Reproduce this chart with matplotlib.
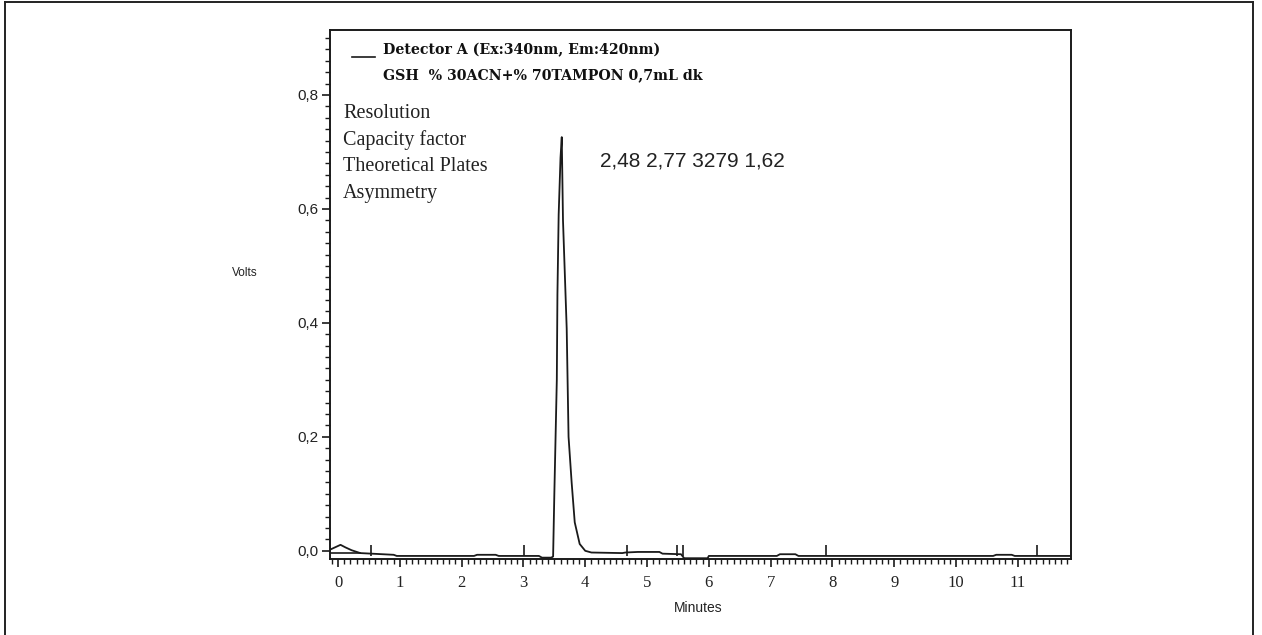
import matplotlib
matplotlib.use('Agg')
import matplotlib.pyplot as plt
from matplotlib.lines import Line2D
from matplotlib.ticker import MultipleLocator, FuncFormatter

# ── Data ───────────────────────────────────────────────────────────────────
signal_t = [-0.13, 0.04, 0.12, 0.22, 0.36, 0.9, 0.95, 2.2, 2.25, 2.55, 2.6,
            3.25, 3.3, 3.45, 3.48, 3.50, 3.54, 3.55, 3.57, 3.60, 3.62, 3.64,
            3.70, 3.73, 3.78, 3.83, 3.91, 4.0, 4.1, 4.6, 4.65, 4.85, 5.2,
            5.25, 5.55, 5.6, 5.98, 6.0, 7.1, 7.15, 7.4, 7.45, 10.6, 10.65,
            10.9, 10.95, 11.86]
signal_v = [0.002, 0.0105, 0.006, 0.001, -0.004, -0.007, -0.009, -0.009,
            -0.007, -0.007, -0.009, -0.009, -0.012, -0.012, -0.010, 0.10,
            0.30, 0.45, 0.59, 0.69, 0.726, 0.58, 0.39, 0.20, 0.12, 0.05,
            0.012, 0.0, -0.003, -0.004, -0.003, -0.002, -0.002, -0.005,
            -0.006, -0.013, -0.013, -0.009, -0.009, -0.006, -0.006, -0.009,
            -0.009, -0.007, -0.007, -0.009, -0.009]
base_t = [-0.13, 0.36]
base_v = [-0.004, -0.004]
marker_t = [0.54, 3.01, 4.67, 5.48, 5.58, 7.90, 11.31]

xticks = list(range(0, 12))
yticks = [0.0, 0.2, 0.4, 0.6, 0.8]

legend_lines = ['Detector A (Ex:340nm, Em:420nm)',
                'GSH  % 30ACN+% 70TAMPON 0,7mL dk']
param_names = ['Resolution', 'Capacity factor', 'Theoretical Plates', 'Asymmetry']
param_values = '2,48 2,77 3279 1,62'

W, H = 1262, 635
fig = plt.figure(figsize=(W / 100, H / 100), dpi=100)
ax = fig.add_axes([330 / W, 1 - 558.5 / H, (1071 - 330) / W, (558.5 - 30) / H])

ax.plot(signal_t, signal_v, color='#1a1a1a', lw=1.3)
ax.plot(base_t, base_v, color='#1a1a1a', lw=1.2)
ax.vlines(marker_t, -0.009, 0.011, color='#1a1a1a', lw=1.2)

ax.set_xlim(-0.13, 11.86)
ax.set_ylim(-0.0135, 0.914)

for s in ax.spines.values():
    s.set_linewidth(1.4)
    s.set_color('#1a1a1a')

ax.set_xticks(xticks)
ax.set_yticks(yticks)
ax.xaxis.set_minor_locator(MultipleLocator(0.1))
ax.yaxis.set_minor_locator(MultipleLocator(0.02))
ax.yaxis.set_major_formatter(FuncFormatter(lambda v, p: f'{v:.1f}'.replace('.', ',')))
ax.tick_params(axis='both', which='major', direction='out', length=6, width=1.2,
               color='#1a1a1a')
ax.tick_params(axis='both', which='minor', direction='out', length=3.5, width=1.0,
               color='#1a1a1a')
ax.tick_params(axis='x', pad=6)
ax.tick_params(axis='y', pad=2)
for lbl in ax.get_xticklabels():
    lbl.set_fontfamily('Liberation Serif')
    lbl.set_fontsize(12)
    lbl.set_color('#222222')
for lbl in ax.get_yticklabels():
    lbl.set_fontfamily('Liberation Sans')
    lbl.set_fontsize(11)
    lbl.set_color('#222222')

fig.text(245 / W, 1 - 273 / H, 'Volts', ha='center', va='center',
         fontsize=8.5, family='Liberation Sans', color='#222222')
fig.text(698 / W, 1 - 608 / H, 'Minutes', ha='center', va='center',
         fontsize=10, family='Liberation Sans', color='#222222')

# legend block
fig.add_artist(Line2D([352 / W, 375 / W], [1 - 57 / H, 1 - 57 / H],
                      color='#1a1a1a', lw=1.2))
for k, txt in enumerate(legend_lines):
    fig.text(383 / W, 1 - (50 + 25 * k) / H, txt, ha='left', va='center',
             fontsize=10.2, family='DejaVu Serif', fontweight='bold',
             color='#111111')

# peak report
for k, txt in enumerate(param_names):
    fig.text(343 / W, 1 - (113 + 26.7 * k) / H, txt, ha='left', va='center',
             fontsize=14.5, family='Liberation Serif', color='#222222')
fig.text(600 / W, 1 - 161 / H, param_values, ha='left', va='center',
         fontsize=15, family='Liberation Sans', color='#222222')

# outer frame
for xs, ys in [([5, 5], [2, H]), ([1253, 1253], [2, H]), ([5, 1253], [2, 2])]:
    fig.add_artist(Line2D([x / W for x in xs], [1 - y / H for y in ys],
                          color='#222222', lw=1.4))

fig.savefig('out.png', dpi=100)
